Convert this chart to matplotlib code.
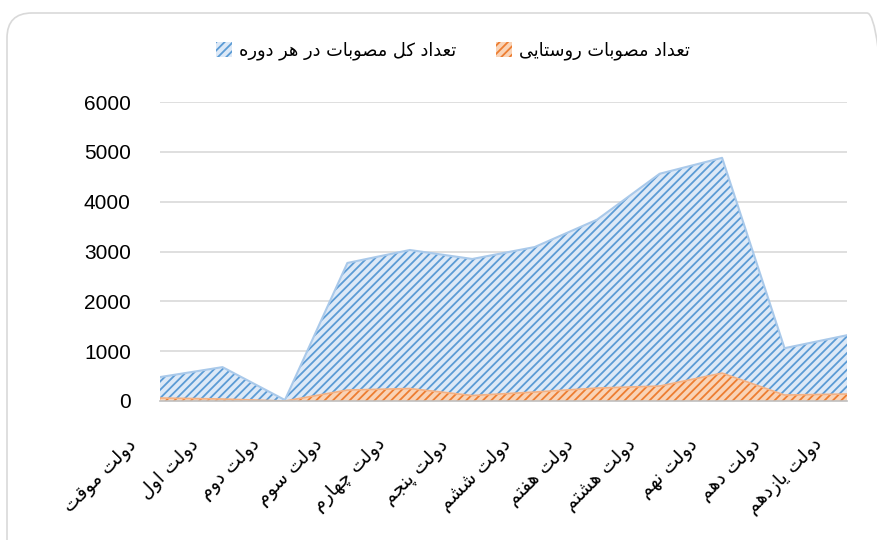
import numpy as np
import matplotlib.pyplot as plt
from matplotlib.patches import FancyBboxPatch, Patch
from matplotlib.transforms import ScaledTranslation

# data
governments = ['دولت موقت', 'دولت اول', 'دولت دوم', 'دولت سوم', 'دولت چهارم', 'دولت پنجم',
               'دولت ششم', 'دولت هفتم', 'دولت هشتم', 'دولت نهم', 'دولت دهم', 'دولت یازدهم']
total_acts = [480, 680, 20, 2770, 3030, 2850, 3090, 3640, 4560, 4880, 1060, 1320]
rural_acts = [60, 40, 0, 220, 250, 110, 180, 260, 300, 560, 120, 140]
label_total = 'تعداد کل مصوبات در هر دوره'
label_rural = 'تعداد مصوبات روستایی'
y_ticks = [0, 1000, 2000, 3000, 4000, 5000, 6000]

# simple persian shaping (presentation forms) + reversal, matplotlib has no bidi
FORMS = {
    'ا': ('\uFE8D', '\uFE8E', None, None),
    'ب': ('\uFE8F', '\uFE90', '\uFE91', '\uFE92'),
    'ت': ('\uFE95', '\uFE96', '\uFE97', '\uFE98'),
    'ج': ('\uFE9D', '\uFE9E', '\uFE9F', '\uFEA0'),
    'د': ('\uFEA9', '\uFEAA', None, None),
    'ر': ('\uFEAD', '\uFEAE', None, None),
    'ز': ('\uFEAF', '\uFEB0', None, None),
    'س': ('\uFEB1', '\uFEB2', '\uFEB3', '\uFEB4'),
    'ش': ('\uFEB5', '\uFEB6', '\uFEB7', '\uFEB8'),
    'ص': ('\uFEB9', '\uFEBA', '\uFEBB', '\uFEBC'),
    'ع': ('\uFEC9', '\uFECA', '\uFECB', '\uFECC'),
    'ف': ('\uFED1', '\uFED2', '\uFED3', '\uFED4'),
    'ق': ('\uFED5', '\uFED6', '\uFED7', '\uFED8'),
    'ل': ('\uFEDD', '\uFEDE', '\uFEDF', '\uFEE0'),
    'م': ('\uFEE1', '\uFEE2', '\uFEE3', '\uFEE4'),
    'ن': ('\uFEE5', '\uFEE6', '\uFEE7', '\uFEE8'),
    'ه': ('\uFEE9', '\uFEEA', '\uFEEB', '\uFEEC'),
    'و': ('\uFEED', '\uFEEE', None, None),
    'پ': ('\uFB56', '\uFB57', '\uFB58', '\uFB59'),
    'چ': ('\uFB7A', '\uFB7B', '\uFB7C', '\uFB7D'),
    'ک': ('\uFB8E', '\uFB8F', '\uFB90', '\uFB91'),
    'ی': ('\uFBFC', '\uFBFD', '\uFBFE', '\uFBFF'),
}


def fa(s):
    out = []
    for i, c in enumerate(s):
        if c not in FORMS:
            out.append(c)
            continue
        prev = s[i - 1] if i > 0 else None
        nxt = s[i + 1] if i + 1 < len(s) else None
        join_prev = prev in FORMS and FORMS[prev][2] is not None
        join_next = nxt in FORMS and FORMS[c][2] is not None
        iso, fin, ini, med = FORMS[c]
        if join_prev and join_next:
            out.append(med)
        elif join_prev:
            out.append(fin)
        elif join_next:
            out.append(ini)
        else:
            out.append(iso)
    return ''.join(reversed(out))


plt.rcParams['hatch.linewidth'] = 1.3

fig = plt.figure(figsize=(8.78, 5.4), dpi=100)
ax = fig.add_axes([160 / 878, 1 - 401 / 540, 687 / 878, 299 / 540])

# rounded chart border (cut off at right/bottom like the reference)
border = FancyBboxPatch((0.07, -0.4), 8.85, 5.67, boxstyle='round,pad=0,rounding_size=0.25',
                        transform=fig.dpi_scale_trans, facecolor='none',
                        edgecolor='#d9d9d9', linewidth=1.2)
fig.patches.append(border)

x = np.arange(len(governments))

ax.fill_between(x, total_acts, facecolor='#dde9f7', edgecolor='#5b9bd5', hatch='////',
                linewidth=0, zorder=2)
ax.plot(x, total_acts, color='#a9c9ea', linewidth=1.5, zorder=3)
ax.fill_between(x, rural_acts, facecolor='#f9d3b6', edgecolor='#ed7d31', hatch='////',
                linewidth=0, zorder=4)
ax.plot(x, rural_acts, color='#f4b183', linewidth=1.2, zorder=5)

ax.set_xlim(0, len(governments) - 1)
ax.set_ylim(0, 6000)
ax.set_yticks(y_ticks)
ax.set_yticklabels([str(v) for v in y_ticks], fontsize=15, family='Liberation Sans')
ax.tick_params(axis='y', length=0, pad=21)
ax.grid(axis='y', color='#d9d9d9', linewidth=1.2, zorder=0)
ax.set_axisbelow(True)
for s in ['top', 'right', 'left']:
    ax.spines[s].set_visible(False)
ax.spines['bottom'].set_color('#bfbfbf')
ax.spines['bottom'].set_linewidth(1.2)
ax.spines['bottom'].set_zorder(6)

ax.set_xticks(x)
ax.set_xticklabels([])
ax.tick_params(axis='x', length=0)
offset = ScaledTranslation(-27 / 100, -41 / 100, fig.dpi_scale_trans)
for xi, name in zip(x, governments):
    ax.text(xi, 0, fa(name), transform=ax.get_xaxis_transform() + offset,
            rotation=45, rotation_mode='anchor', ha='right', va='center',
            fontsize=13.5, family='DejaVu Sans')

handles = [Patch(facecolor='#dde9f7', edgecolor='#5b9bd5', hatch='////', linewidth=0),
           Patch(facecolor='#f9d3b6', edgecolor='#ed7d31', hatch='////', linewidth=0)]
fig.legend(handles, [fa(label_total), fa(label_rural)], loc='center',
           bbox_to_anchor=(453 / 878, 1 - 51 / 540), ncol=2, frameon=False,
           prop={'family': 'DejaVu Sans', 'size': 12.8}, handlelength=0.9,
           handleheight=0.9, handletextpad=0.4, columnspacing=2.2)

fig.savefig('out.png', dpi=100)
